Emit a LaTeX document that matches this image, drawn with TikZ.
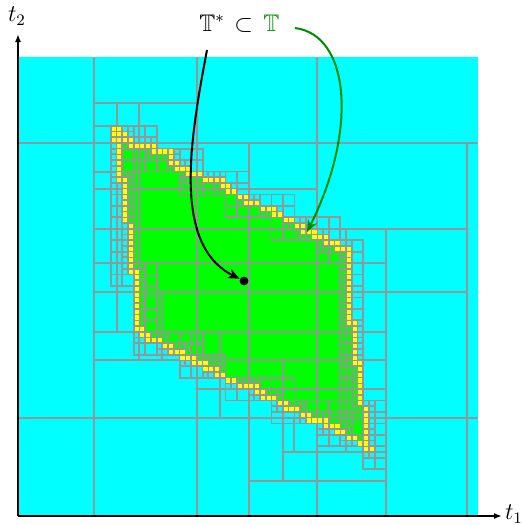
\documentclass[tikz,border=0pt]{standalone}
\usepackage{amssymb}
\usetikzlibrary{arrows.meta}
\definecolor{gridgray}{RGB}{150,150,150}
\definecolor{darkgreen}{RGB}{0,140,0}
\definecolor{cellcyan}{RGB}{0,255,255}
\definecolor{cellgreen}{RGB}{0,255,0}
\definecolor{cellyellow}{RGB}{255,255,0}
\tikzset{
  gl/.style={draw=gridgray, line width=0.9pt},
  glc/.style={draw=gridgray, line width=1pt},
  ycell/.style={fill=cellyellow, draw=gridgray, line width=0.8pt},
  axis/.style={line width=0.8pt, -{Latex[length=4pt,width=3pt]}},
  curvearrow/.style={line width=1pt, -{Stealth[length=6pt,width=5pt]}},
  lbl/.style={font=\fontsize{12}{14}\selectfont, inner sep=0pt},
}
\newcommand\bndpts{112/127,120/133,128/138,136/146,157/149,170/155,176/166,190/172,206/178,224/184,234/193,250/203,267/208,280/216,293/223,303/230,317/235,327/241,337/245,349/252,349/320,354.6/322,354.6/363,360.4/365,360.4/405,366/407,366/440,371/452,363/443,350/437,340/430,330/424,313/419,303/413,290/408,280/402,267/396,257/389,248/388,235/382,222/375,208/368,198/363,188/358,175/352,162/343,148/338,140/331,136.6/327,136.6/272,130.9/270,130.9/224,125.1/222,125.1/182,119.4/180,119.4/145}
\newcommand\bndsegs{112/127/120/133,120/133/128/138,128/138/136/146,136/146/157/149,157/149/170/155,170/155/176/166,176/166/190/172,190/172/206/178,206/178/224/184,224/184/234/193,234/193/250/203,250/203/267/208,267/208/280/216,280/216/293/223,293/223/303/230,303/230/317/235,317/235/327/241,327/241/337/245,337/245/349/252,349/252/349/320,349/320/354.6/322,354.6/322/354.6/363,354.6/363/360.4/365,360.4/365/360.4/405,360.4/405/366/407,366/407/366/440,366/440/371/452,371/452/363/443,363/443/350/437,350/437/340/430,340/430/330/424,330/424/313/419,313/419/303/413,303/413/290/408,290/408/280/402,280/402/267/396,267/396/257/389,257/389/248/388,248/388/235/382,235/382/222/375,222/375/208/368,208/368/198/363,198/363/188/358,188/358/175/352,175/352/162/343,162/343/148/338,148/338/140/331,140/331/136.6/327,136.6/327/136.6/272,136.6/272/130.9/270,130.9/270/130.9/224,130.9/224/125.1/222,125.1/222/125.1/182,125.1/182/119.4/180,119.4/180/119.4/145,119.4/145/112/127}
\begin{document}
\begin{tikzpicture}[x=0.5pt,y=-0.5pt]
\useasboundingbox (0,0) rectangle (522,525);
% domain
\fill[cellcyan] (19,57) rectangle (478,515);
% interior region
\fill[cellgreen] (112,127) \foreach \p/\q in \bndpts {-- (\p,\q)} -- cycle;
\begin{scope}[shift={(9.5pt,-28.5pt)}, x=2.86875pt, y=-2.8625pt]
  % coarse cells
  \draw[glc] (13,0)--(13,80) (31,0)--(31,80) (52,0)--(52,80) (40,15)--(40,80)
    (64,30)--(64,80) (78,15)--(78,80)
    (0,15)--(80,15) (0,63)--(80,63)
    (13,8)--(31,8) (13,23)--(52,23) (13,30)--(78,30) (13,36)--(64,36)
    (13,41)--(78,41) (13,48)--(64,48) (13,53)--(64,53) (31,58)--(64,58)
    (46,69)--(64,69) (40,74)--(64,74)
    (46,53)--(46,74) (17,8)--(17,48) (21,8)--(21,53) (13,20)--(21,20)
    (25,41)--(25,53) (35,48)--(35,63) (57,30)--(57,69) (60,41)--(60,69)
    (13,12)--(17,12) (48,63)--(48,69);
  % refined cells along the boundary
  \foreach \xa/\ya/\xb/\yb in \bndsegs {
    \pgfmathsetmacro\seglen{veclen(\xb-\xa,\yb-\ya)}
    \pgfmathtruncatemacro\nn{max(1,ceil(\seglen/2))}
    \foreach \i in {0,...,\nn} {
      \pgfmathsetmacro\px{\xa+(\xb-\xa)*\i/\nn}
      \pgfmathsetmacro\py{\ya+(\yb-\ya)*\i/\nn}
      \pgfmathtruncatemacro\gx{floor((\px-19)/5.7375)}
      \pgfmathtruncatemacro\gy{floor((\py-57)/5.725)}
      \pgfmathtruncatemacro\ax{2*floor(\gx/2)}
      \pgfmathtruncatemacro\ay{2*floor(\gy/2)}
      \pgfmathtruncatemacro\bx{4*floor(\gx/4)}
      \pgfmathtruncatemacro\by{4*floor(\gy/4)}
      \draw[gl] (\bx,\by) rectangle +(4,4) (\bx+2,\by) -- +(0,4) (\bx,\by+2) -- +(4,0);
      \draw[gl] (\ax,\ay) rectangle +(2,2) (\ax+1,\ay) -- +(0,2) (\ax,\ay+1) -- +(2,0);
    }
  }
  \foreach \xa/\ya/\xb/\yb in \bndsegs {
    \pgfmathsetmacro\seglen{veclen(\xb-\xa,\yb-\ya)}
    \pgfmathtruncatemacro\nn{max(1,ceil(\seglen/2))}
    \foreach \i in {0,...,\nn} {
      \pgfmathsetmacro\px{\xa+(\xb-\xa)*\i/\nn}
      \pgfmathsetmacro\py{\ya+(\yb-\ya)*\i/\nn}
      \pgfmathtruncatemacro\gx{floor((\px-19)/5.7375)}
      \pgfmathtruncatemacro\gy{floor((\py-57)/5.725)}
      \filldraw[ycell] (\gx,\gy) rectangle +(1,1);
    }
  }
\end{scope}
% axes
\coordinate (O) at (18,516);
\coordinate (ytop) at (18,34);
\coordinate (xend) at (502,516);
\draw[axis] (O) -- (ytop);
\draw[axis] (O) -- (xend);
\node[lbl] (t2) at (17,16) {$t_2$};
\node[lbl] (t1) at (514,514) {$t_1$};
% labels
\node[lbl, anchor=base west] (Tstar) at (199,31) {$\mathbb{T}^*$};
\node[lbl, anchor=base west] (subs) at (234,31) {$\subset$};
\node[lbl, anchor=base west, text=darkgreen] (T) at (263,31) {$\mathbb{T}$};
\node[circle, fill=black, inner sep=0pt, minimum size=4.4pt] (dot) at (244,281) {};
\coordinate (s1) at (207,50);
\coordinate (s2) at (295,28);
\draw[curvearrow] (s1) .. controls (190,140) and (172,245) .. (dot);
\draw[curvearrow, darkgreen] (s2) .. controls (350,35) and (358,130) .. (307,232);
\end{tikzpicture}
\end{document}
